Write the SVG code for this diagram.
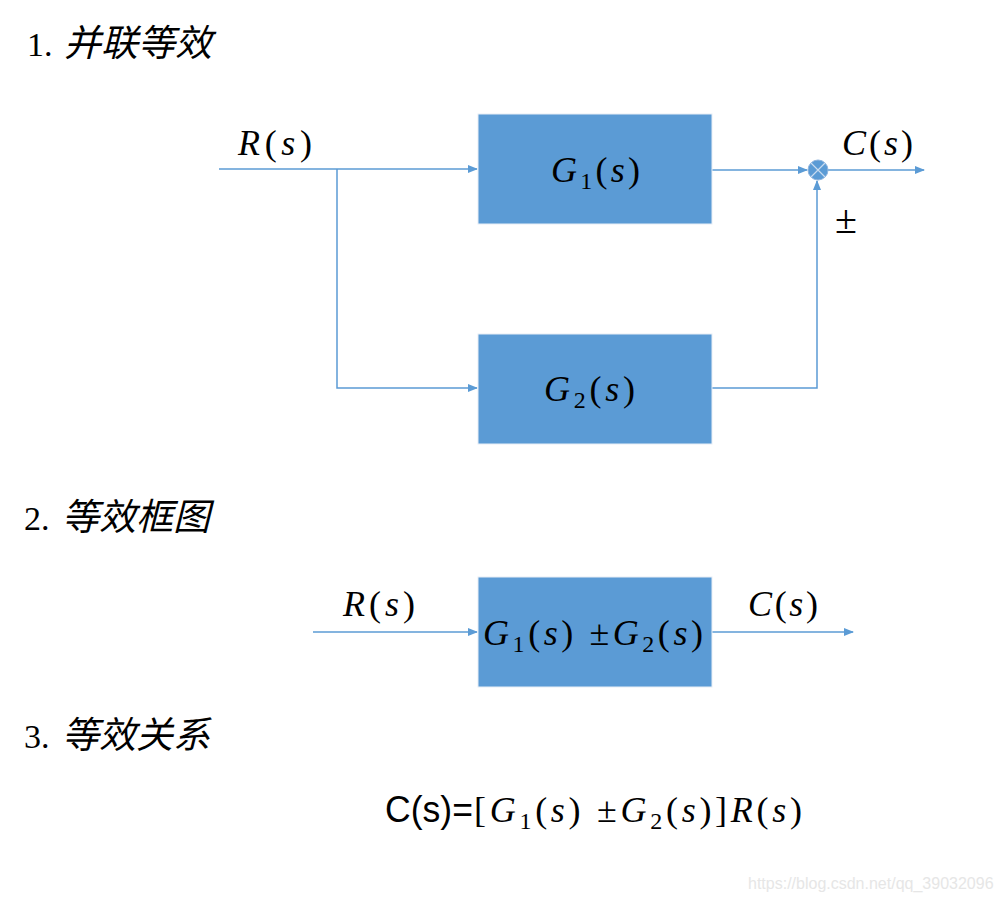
<svg xmlns="http://www.w3.org/2000/svg" width="1000" height="899" viewBox="0 0 1000 899">
<style>
.box{fill:#5b9bd5;stroke:#e8eef6;stroke-width:1}
.ln{fill:none;stroke:#5b9bd5;stroke-width:1.5}
.m{font-family:"Liberation Serif","DejaVu Serif",serif;font-style:italic;font-size:36px;fill:#000}
.up{font-style:normal}
.sub{font-size:24px}
.h{font-family:"Liberation Serif",serif;font-size:34px;fill:#000}
.cn{font-family:"Noto Sans CJK SC",sans-serif;font-style:italic;font-size:37px}
.f{font-family:"Liberation Sans",sans-serif;font-size:36px;fill:#000}
.pm{font-family:"Liberation Serif",serif;font-size:40px;fill:#000}
</style>
<defs>
<marker id="ar" markerWidth="10" markerHeight="8" refX="9" refY="4" orient="auto" markerUnits="userSpaceOnUse">
<path d="M0,0 L10,4 L0,8 Z" fill="#5b9bd5"/>
</marker>
</defs>
<rect width="1000" height="899" fill="#fff"/>
<g id="titles">
<text class="h" x="27" y="56">1. <tspan class="cn" x="64">并联等效</tspan></text>
<text class="h" x="24" y="530">2. <tspan class="cn" x="62">等效框图</tspan></text>
<text class="h" x="24" y="748">3. <tspan class="cn" x="62">等效关系</tspan></text>
</g>
<g id="connectors">
<path class="ln" d="M219,169 H477" marker-end="url(#ar)"/>
<path class="ln" d="M337,169 V388 H477" marker-end="url(#ar)"/>
<path class="ln" d="M712,170 H807" marker-end="url(#ar)"/>
<path class="ln" d="M712,388 H817 V181" marker-end="url(#ar)"/>
<path class="ln" d="M828,170 H924" marker-end="url(#ar)"/>
<path class="ln" d="M313,632 H477" marker-end="url(#ar)"/>
<path class="ln" d="M712,632 H853" marker-end="url(#ar)"/>
</g>
<g id="G1">
<rect class="box" x="478" y="114" width="234" height="110"/>
<text class="m" x="551" y="182" textLength="89" lengthAdjust="spacing">G<tspan class="up sub" dy="7">1</tspan><tspan class="up" dy="-7">(</tspan>s<tspan class="up">)</tspan></text>
</g>
<g id="G2">
<rect class="box" x="478" y="334" width="234" height="110"/>
<text class="m" x="544" y="401" textLength="91" lengthAdjust="spacing">G<tspan class="up sub" dy="7">2</tspan><tspan class="up" dy="-7">(</tspan>s<tspan class="up">)</tspan></text>
</g>
<g id="sum">
<circle cx="818" cy="170" r="10" fill="#5b9bd5" stroke="#8fb4de" stroke-width="1"/>
<path d="M811,163 L825,177 M825,163 L811,177" stroke="#c9dcf0" stroke-width="1.2"/>
</g>
<g id="labels">
<text class="m" x="238" y="155" textLength="74" lengthAdjust="spacing">R<tspan class="up">(</tspan>s<tspan class="up">)</tspan></text>
<text class="m" x="842" y="155" textLength="71" lengthAdjust="spacing">C<tspan class="up">(</tspan>s<tspan class="up">)</tspan></text>
<text class="pm" x="835" y="233">±</text>
<text class="m" x="343" y="616" textLength="72" lengthAdjust="spacing">R<tspan class="up">(</tspan>s<tspan class="up">)</tspan></text>
<text class="m" x="748" y="616" textLength="70" lengthAdjust="spacing">C<tspan class="up">(</tspan>s<tspan class="up">)</tspan></text>
</g>
<g id="Geq">
<rect class="box" x="478" y="577" width="234" height="110"/>
<text class="m" x="483" y="645" textLength="220" lengthAdjust="spacing">G<tspan class="up sub" dy="7">1</tspan><tspan class="up" dy="-7">(</tspan>s<tspan class="up">) ±</tspan>G<tspan class="up sub" dy="7">2</tspan><tspan class="up" dy="-7">(</tspan>s<tspan class="up">)</tspan></text>
</g>
<g id="formula">
<text class="f" x="385" y="822" textLength="88" lengthAdjust="spacingAndGlyphs">C(s)=</text>
<text class="m" x="474" y="822" textLength="328" lengthAdjust="spacing"><tspan class="up">[</tspan>G<tspan class="up sub" dy="7">1</tspan><tspan class="up" dy="-7">(</tspan>s<tspan class="up">) ±</tspan>G<tspan class="up sub" dy="7">2</tspan><tspan class="up" dy="-7">(</tspan>s<tspan class="up">)]</tspan>R<tspan class="up">(</tspan>s<tspan class="up">)</tspan></text>
</g>
<text x="748" y="889" font-family="Liberation Sans,sans-serif" font-size="16" fill="#e6e6e6">https://blog.csdn.net/qq_39032096</text>
</svg>
